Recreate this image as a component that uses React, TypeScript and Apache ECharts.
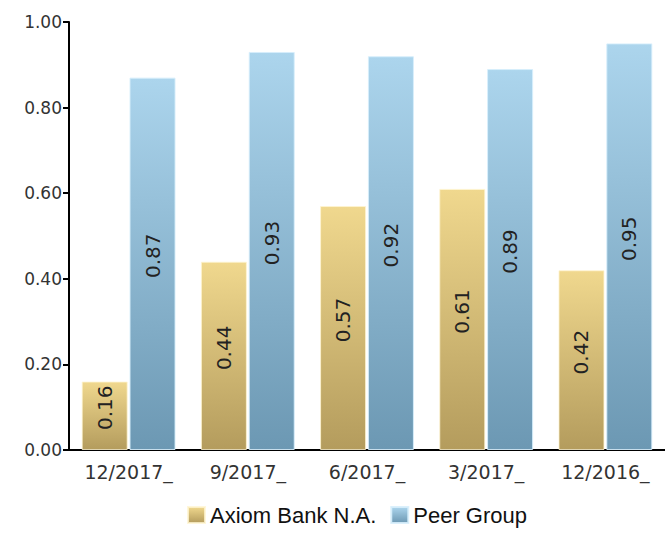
import React, { useEffect, useRef } from "react";
import * as echarts from "echarts";

const categories = ["12/2017_", "9/2017_", "6/2017_", "3/2017_", "12/2016_"];
const axiomValues = [0.16, 0.44, 0.57, 0.61, 0.42];
const peerValues = [0.87, 0.93, 0.92, 0.89, 0.95];
const seriesNames = ["Axiom Bank N.A.", "Peer Group"];

export default function App() {
  const ref = useRef<HTMLDivElement>(null);
  useEffect(() => {
    if (!ref.current) return;
    const chart = echarts.init(ref.current, null, { renderer: "svg" });
    const gold = new echarts.graphic.LinearGradient(0, 0, 0, 1, [
      { offset: 0, color: "#f0d88e" },
      { offset: 1, color: "#b49c5d" },
    ]);
    const blue = new echarts.graphic.LinearGradient(0, 0, 0, 1, [
      { offset: 0, color: "#acd5ed" },
      { offset: 1, color: "#6c98b3" },
    ]);
    const label = {
      show: true,
      position: "inside",
      rotate: 90,
      offset: [8, 0],
      fontFamily: "DejaVu Sans",
      fontSize: 20,
      color: "#222",
      formatter: (p: any) => Number(p.value).toFixed(2),
    };
    chart.setOption({
      animation: false,
      grid: { left: 69, right: -4, top: 22, bottom: 83, containLabel: false },
      legend: {
        bottom: 2,
        left: 182,
        itemWidth: 17,
        itemHeight: 16,
        itemGap: 14,
        icon: "rect",
        textStyle: { fontFamily: "Liberation Sans", fontSize: 22, color: "#111" },
        data: seriesNames,
      },
      xAxis: {
        type: "category",
        data: categories,
        axisLine: { lineStyle: { color: "#000", width: 2 } },
        axisTick: { alignWithLabel: true, length: 4, lineStyle: { color: "#999", width: 2 } },
        axisLabel: { fontFamily: "DejaVu Sans", fontSize: 19, color: "#333", margin: 12 },
      },
      yAxis: {
        type: "value",
        min: 0,
        max: 1,
        interval: 0.2,
        splitLine: { show: false },
        axisLine: { show: true, lineStyle: { color: "#000", width: 2 } },
        axisTick: { show: true, length: 6, lineStyle: { color: "#000", width: 2 } },
        axisLabel: {
          fontFamily: "DejaVu Sans",
          fontSize: 17,
          color: "#333",
          margin: 7,
          formatter: (v: number) => v.toFixed(2),
        },
      },
      series: [
        {
          name: seriesNames[0],
          type: "bar",
          data: axiomValues,
          barWidth: 46,
          barGap: "4%",
          itemStyle: { color: gold, borderColor: "rgba(255,245,210,0.8)", borderWidth: 1 },
          label,
        },
        {
          name: seriesNames[1],
          type: "bar",
          data: peerValues,
          barWidth: 46,
          barGap: "4%",
          itemStyle: { color: blue, borderColor: "rgba(215,238,252,0.9)", borderWidth: 1 },
          label,
        },
      ],
    });
    return () => chart.dispose();
  }, []);
  return (
    <div
      ref={ref}
      style={{ position: "absolute", left: 0, top: 0, width: 665, height: 533 }}
    />
  );
}
